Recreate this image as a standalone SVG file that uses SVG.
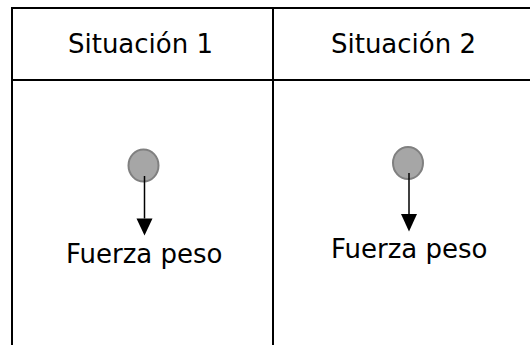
<svg xmlns="http://www.w3.org/2000/svg" width="530" height="345" viewBox="0 0 530 345">
<defs>
<style>
.grid{stroke:#000;stroke-width:2;fill:none}
.lbl{font-family:"DejaVu Sans",Verdana,sans-serif;font-size:26px;fill:#000}
.ball{fill:#a6a6a6;stroke:#808080;stroke-width:2}
.force{stroke:#000;stroke-width:1.5;fill:none}
.head{fill:#000}
</style>
</defs>
<g id="table">
<line class="grid" x1="12" y1="8" x2="530" y2="8"/>
<line class="grid" x1="12" y1="80" x2="530" y2="80"/>
<line class="grid" x1="12" y1="7" x2="12" y2="345"/>
<line class="grid" x1="273" y1="7" x2="273" y2="345"/>
<text class="lbl" x="140.5" y="53" text-anchor="middle">Situación 1</text>
<text class="lbl" x="403.5" y="53" text-anchor="middle">Situación 2</text>
</g>
<g id="ball1">
<ellipse class="ball" cx="143.5" cy="165.5" rx="15" ry="16"/>
</g>
<g id="ball2">
<ellipse class="ball" cx="408" cy="163" rx="15" ry="16"/>
</g>
<g id="connectors">
<line class="force" x1="144.5" y1="176" x2="144.5" y2="218.5"/>
<path class="head" d="M136.5,218.5 L152.5,218.5 L144.5,235.5 z"/>
<line class="force" x1="409" y1="173" x2="409" y2="214"/>
<path class="head" d="M401,214 L417,214 L409,231.5 z"/>
</g>
<g id="label1">
<text class="lbl" x="66" y="263">Fuerza peso</text>
</g>
<g id="label2">
<text class="lbl" x="331" y="258">Fuerza peso</text>
</g>
</svg>
